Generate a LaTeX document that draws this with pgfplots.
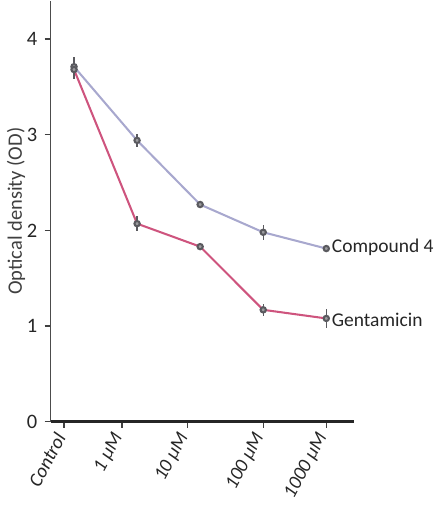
\documentclass[border=0pt]{standalone}
\usepackage{pgfplots}
\pgfplotsset{compat=1.18}
\usepackage{fontspec}
\setmainfont{Carlito}
\definecolor{lav}{RGB}{168,168,206}
\definecolor{pinkline}{RGB}{206,84,126}
\definecolor{mk}{RGB}{90,90,95}

\begin{document}
\begin{tikzpicture}
\begin{axis}[
    scale only axis,
    width=148pt, height=205.5pt,
    xmin=-0.37, xmax=4.44,
    ymin=0, ymax=4.4,
    axis x line*=bottom, axis y line*=left,
    x axis line style={line width=1.5pt, color=black!85, -},
    y axis line style={line width=0.6pt, color=black!70, -},
    xtick={-0.16,0.76,1.8,3.0,4.0},
    xticklabels={Control,1 µM,10 µM,100 µM,1000 µM},
    x tick label style={rotate=62, anchor=east, font=\itshape\fontsize{9.5}{10}\selectfont, color=black!85},
    ytick={0,1,2,3,4},
    y tick label style={font=\fontsize{10}{10}\selectfont, color=black!85},
    /pgf/number format/assume math mode=true,
    tick align=outside,
    major tick length=3pt,
    tick style={color=black!75, line width=0.6pt},
    ylabel={Optical density (OD)},
    ylabel style={font=\fontsize{10}{10}\selectfont, color=black!75, yshift=-6pt},
    clip=false,
]
\addplot[lav, line width=1pt, mark=*, mark size=1.3pt,
    mark options={fill=mk!60, draw=mk},
    error bars/.cd, y dir=both, y explicit,
    error bar style={mk, line width=0.7pt}, error mark=none]
    coordinates {
    (0,3.71) +- (0,0.10)
    (1,2.94) +- (0,0.07)
    (2,2.27) +- (0,0.02)
    (3,1.98) +- (0,0.08)
    (4,1.81) +- (0,0.02)
    };
\addplot[pinkline, line width=1pt, mark=*, mark size=1.3pt,
    mark options={fill=mk!60, draw=mk},
    error bars/.cd, y dir=both, y explicit,
    error bar style={mk, line width=0.7pt}, error mark=none]
    coordinates {
    (0,3.68) +- (0,0.10)
    (1,2.07) +- (0,0.08)
    (2,1.83) +- (0,0.03)
    (3,1.17) +- (0,0.06)
    (4,1.08) +- (0,0.10)
    };
\node[anchor=west, font=\fontsize{9.5}{10}\selectfont, text=black!85, inner sep=1pt] at (axis cs:4.05,1.82) {Compound 4};
\node[anchor=west, font=\fontsize{9.5}{10}\selectfont, text=black!85, inner sep=1pt] at (axis cs:4.05,1.07) {Gentamicin};
\end{axis}
\end{tikzpicture}
\end{document}
